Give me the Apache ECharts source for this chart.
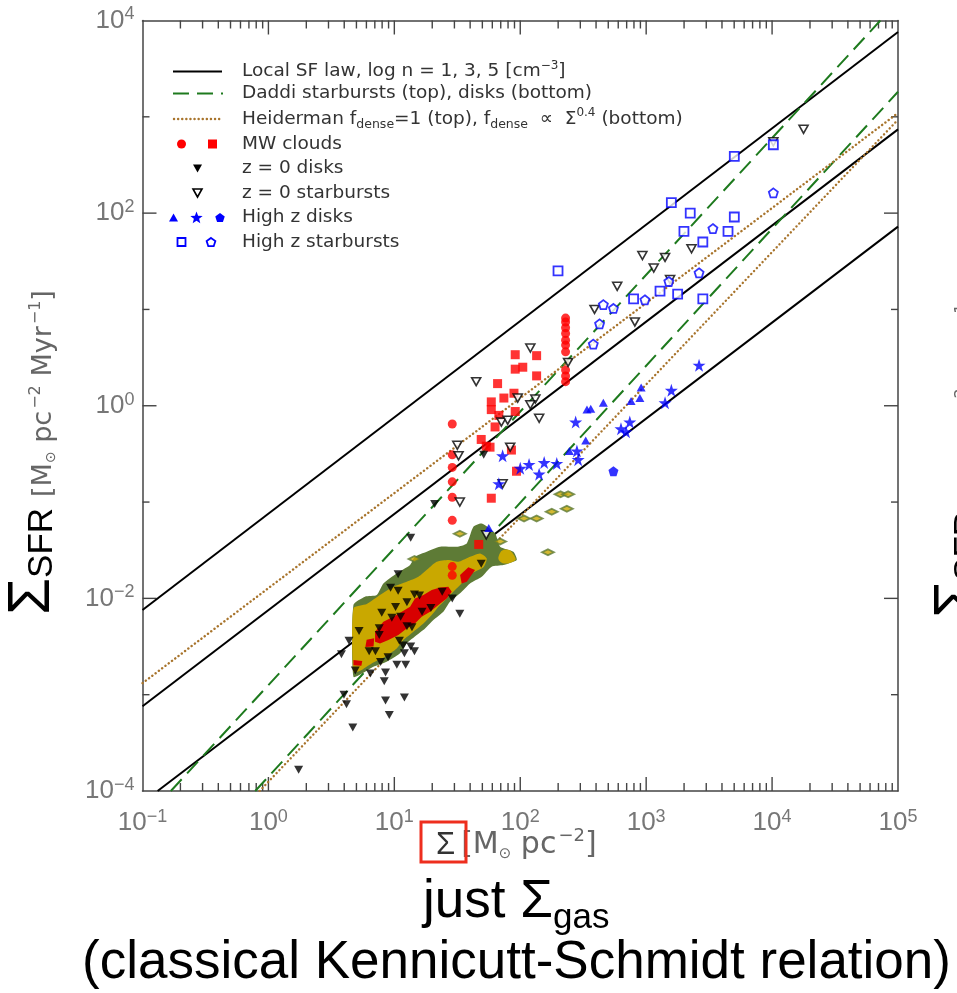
<!DOCTYPE html>
<html><head><meta charset="utf-8">
<script src="https://cdn.jsdelivr.net/npm/echarts@6/dist/echarts.min.js"></script>
<style>html,body{margin:0;padding:0;background:#fff}#c{width:957px;height:993px}</style>
</head><body><div id="c"></div>
<script>
// ---------------- axis ranges & ticks ----------------
const xRange = [0.1, 1e5];
const yRange = [1e-4, 1e4];
const xMajorTicks = [1, 10, 100, 1000, 10000];
const xMinorTicks = [0.2,0.3,0.4,0.5,0.6,0.7,0.8,0.9, 2,3,4,5,6,7,8,9, 20,30,40,50,60,70,80,90,
  200,300,400,500,600,700,800,900, 2000,3000,4000,5000,6000,7000,8000,9000,
  20000,30000,40000,50000,60000,70000,80000,90000];
const yMajorTicks = [1e-2, 1, 1e2];
const yMinorTicks = [1e-3, 1e-1, 10, 1e3];

// ---------------- model lines: endpoints as [log10 Sigma, log10 SFR] ----------------
const sfLawLinesLog = [
  [[-1, -2.12], [5, 3.88]],
  [[-1, -3.12], [5, 2.87]],
  [[-0.88, -4], [5, 1.86]]
];
const daddiLinesLog = [
  [[-0.775, -4], [4.86, 4]],
  [[-0.105, -4], [5, 3.26]]
];
const heidermanLinesLog = [
  [[-1, -2.88], [5, 3.04]],
  [[-0.07, -4], [5, 2.97]]
];

// ---------------- points: [log10 Sigma_gas, log10 Sigma_SFR] ----------------
const mwCirclesLog = [
  [2.36,0.91],[2.36,0.87],[2.36,0.81],[2.36,0.75],[2.36,0.68],[2.36,0.63],[2.36,0.56],[2.36,0.37],[2.36,0.31],[2.36,0.25],
  [1.46,-0.19],[1.46,-0.51],[1.46,-0.64],[1.46,-0.79],[1.46,-0.95],[1.46,-1.19],[1.46,-1.67],[1.46,-1.76]
];
const mwSquaresLog = [
  [1.96,0.53],[2.13,0.52],[1.96,0.38],[2.02,0.40],[2.13,0.31],[1.82,0.23],[1.95,0.13],[1.87,0.08],[1.77,0.04],[1.77,-0.04],
  [1.83,-0.10],[1.96,-0.06],[1.80,-0.22],[1.69,-0.35],[1.73,-0.42],[1.76,-0.43],[1.93,-0.46],[1.97,-0.68],[1.77,-0.96],[1.67,-1.44]
];
const z0DisksLog = [
  [1.32,-1.02],[1.13,-1.37],[1.69,-1.64],[1.03,-1.75],[0.97,-1.89],[1.03,-1.92],[1.38,-1.93],[1.16,-1.96],[1.20,-1.97],[1.46,-2.00],
  [1.10,-2.04],[1.01,-2.09],[1.29,-2.10],[1.22,-2.14],[1.52,-2.16],[0.90,-2.15],[0.98,-2.20],[1.05,-2.19],[1.10,-2.29],[1.14,-2.30],
  [0.88,-2.31],[0.72,-2.34],[0.88,-2.38],[1.04,-2.44],[0.64,-2.44],[1.07,-2.49],[1.13,-2.50],[1.16,-2.55],[0.80,-2.55],[0.85,-2.55],
  [0.58,-2.58],[1.08,-2.57],[0.89,-2.66],[0.95,-2.61],[1.02,-2.69],[1.09,-2.69],[0.69,-2.75],[0.81,-2.78],[0.93,-2.77],[0.92,-2.86],
  [0.60,-3.00],[0.62,-3.10],[0.93,-3.06],[1.08,-3.03],[0.96,-3.21],[0.67,-3.34],[0.24,-3.78],[1.71,-0.51]
];
const z0StarburstsLog = [
  [2.08,0.60],[1.65,0.25],[1.98,0.08],[2.12,0.07],[2.08,0.01],[2.15,-0.13],[1.85,-0.17],[1.90,-0.15],[1.50,-0.41],[1.51,-0.52],
  [1.92,-0.43],[2.38,0.45],[1.86,-0.81],[1.52,-1.00],[1.73,-1.34],[2.91,0.87],[4.01,2.74],[4.25,2.87],[2.97,1.56],[3.15,1.54],
  [3.06,1.43],[3.36,1.63],[3.19,1.31],[2.77,1.24],[2.59,1.00]
];
const highZDiskTrianglesLog = [
  [2.96,0.19],[2.88,0.05],[2.95,0.08],[2.66,0.03],[2.53,-0.04],[2.56,-0.03],[2.52,-0.36],[2.39,-0.47],[1.75,-1.27]
];
const highZDiskStarsLog = [
  [2.44,-0.17],[2.87,-0.17],[2.80,-0.24],[2.84,-0.27],[1.86,-0.52],[2.00,-0.65],[2.07,-0.61],[2.19,-0.59],[2.29,-0.60],[2.15,-0.71],
  [2.45,-0.47],[2.46,-0.56],[1.83,-0.81],[3.42,0.42],[3.20,0.16],[3.15,0.03]
];
const highZDiskPentagonsLog = [[2.74,-0.68]];
const highZSbSquaresLog = [
  [2.30,1.40],[3.20,2.11],[3.35,2.00],[3.30,1.81],[3.70,2.59],[4.01,2.71],[3.70,1.96],[3.65,1.81],[3.45,1.70],[3.11,1.19],
  [3.25,1.16],[2.90,1.11],[3.45,1.11]
];
const highZSbPentagonsLog = [
  [2.66,1.05],[2.74,1.01],[2.63,0.85],[2.58,0.64],[2.99,1.10],[3.18,1.29],[3.42,1.38],[3.53,1.84],[4.01,2.21]
];

// ---------------- pixel-map density contours (polygon vertices, log units) ----------------
const contourOuterLog = [
  [0.675,-2.070],[0.767,-1.983],[0.860,-1.966],[0.913,-1.845],[1.019,-1.741],[1.125,-1.654],[1.164,-1.568],[1.257,-1.516],
  [1.363,-1.464],[1.495,-1.464],[1.575,-1.429],[1.628,-1.256],[1.694,-1.222],[1.800,-1.325],[1.840,-1.464],[1.945,-1.516],
  [1.972,-1.602],[1.866,-1.654],[1.773,-1.671],[1.694,-1.775],[1.601,-1.845],[1.522,-1.948],[1.442,-2.035],[1.389,-2.139],
  [1.310,-2.225],[1.244,-2.312],[1.178,-2.381],[1.098,-2.468],[1.045,-2.571],[0.939,-2.658],[0.833,-2.710],[0.754,-2.772],[0.675,-2.814]
];
const contourMidLog = [
  [0.675,-2.104],[0.781,-2.059],[0.886,-1.966],[0.992,-1.879],[1.098,-1.827],[1.191,-1.775],[1.270,-1.689],[1.337,-1.620],
  [1.429,-1.602],[1.509,-1.620],[1.588,-1.575],[1.681,-1.533],[1.734,-1.585],[1.707,-1.678],[1.615,-1.741],[1.548,-1.827],
  [1.482,-1.914],[1.416,-2.000],[1.350,-2.087],[1.297,-2.173],[1.231,-2.260],[1.151,-2.346],[1.072,-2.433],[1.019,-2.520],
  [0.926,-2.606],[0.820,-2.675],[0.728,-2.751],[0.675,-2.762]
];
const contourMidPatchLog = [[1.826,-1.585],[1.853,-1.505],[1.914,-1.498],[1.964,-1.595],[1.906,-1.637],[1.853,-1.630]];
const contourInnerLog = [
  [0.847,-2.346],[0.913,-2.243],[0.992,-2.191],[1.059,-2.139],[1.125,-2.087],[1.164,-2.000],[1.231,-1.966],[1.297,-1.914],
  [1.363,-1.886],[1.429,-1.879],[1.456,-1.931],[1.416,-2.000],[1.350,-2.070],[1.284,-2.139],[1.217,-2.191],[1.164,-2.260],
  [1.098,-2.312],[1.032,-2.381],[0.953,-2.433],[0.886,-2.468],[0.847,-2.450]
];
const contourInnerPatchALog = [[1.522,-1.758],[1.588,-1.678],[1.641,-1.706],[1.575,-1.827],[1.535,-1.845]];
const contourInnerPatchBLog = [[0.780,-2.430],[0.840,-2.415],[0.835,-2.500],[0.770,-2.505]];
const contourInnerPatchCLog = [[0.675,-2.640],[0.745,-2.650],[0.738,-2.700],[0.675,-2.695]];
const contourBlobsLog = [
  [1.52,-1.33],[2.13,-1.17],[2.03,-1.17],[2.25,-1.10],[2.37,-1.07],[2.32,-0.92],[2.38,-0.92],[2.22,-1.52],[1.84,-1.41],[1.16,-1.59]
];

// ---------------- helpers ----------------
const FONT = '"Liberation Sans", Arial, sans-serif';
const LFONT = '"DejaVu Sans", sans-serif';
const toVal = arr => arr.map(p => [Math.pow(10, p[0]), Math.pow(10, p[1])]);
const PENTAGON = 'path://M50,0 L97.6,34.5 L79.4,90.5 L20.6,90.5 L2.4,34.5 Z';
const STAR = 'path://M50,0 L61.8,35.3 L99,35.3 L69,57.6 L80.4,93 L50,71 L19.6,93 L31,57.6 L1,35.3 L38.2,35.3 Z';

const mctx = document.createElement('canvas').getContext('2d');
function textW(t, size, fam) { mctx.font = size + 'px ' + fam; return mctx.measureText(t).width; }
// lay a run of text pieces on one baseline (local coords: x along text, baseline at y=0)
function textRun(segs) {
  let x = 0; const kids = [];
  segs.forEach(s => {
    const fam = s.fam || FONT;
    kids.push({ type: 'text', x: x, y: (s.dy || 0) - 0.35 * s.size,
      style: { text: s.t, fontSize: s.size, fontFamily: fam, fill: s.c || '#000', align: 'left', verticalAlign: 'middle' } });
    x += textW(s.t, s.size, fam) + (s.gap || 0);
  });
  return kids;
}

function lineSeries(seg, color, type, width, cap) {
  return { type: 'line', data: toVal(seg), symbol: 'none', silent: true, animation: false, z: 2,
    lineStyle: { color, width, type, cap: cap || 'butt' } };
}
function polySeries(verts, color, z, smooth) {
  const data = toVal(verts);
  return { type: 'custom', coordinateSystem: 'cartesian2d', silent: true, animation: false, z: z, data,
    renderItem: (params, api) => {
      if (params.dataIndex !== 0) return null;
      return { type: 'polygon', shape: { points: data.map(d => api.coord(d)), smooth: smooth || 0 }, style: { fill: color } };
    } };
}
function scatter(arr, opt) {
  return Object.assign({ type: 'scatter', data: toVal(arr), silent: true, animation: false, z: 5 }, opt);
}
function expLabel(v, skipOdd) {
  const e = Math.round(Math.log10(v));
  if (skipOdd && Math.abs(e) % 2 === 1) return '';
  return '{b|10}{e|' + (e < 0 ? '\u2212' + (-e) : e) + '}';
}
const labelRich = {
  b: { fontSize: 26, color: '#777', fontFamily: FONT, lineHeight: 30 },
  e: { fontSize: 18, color: '#777', fontFamily: FONT, lineHeight: 16, verticalAlign: 'top' }
};

// tick marks drawn through the axes' scales
const tickData = [].concat(
  xMajorTicks.map(v => [v, 1, 14, 0]),
  xMinorTicks.map(v => [v, 1, 8, 0]),
  yMajorTicks.map(v => [1, v, 14, 1]),
  yMinorTicks.map(v => [1, v, 7, 1])
);
const tickSeries = {
  type: 'custom', coordinateSystem: 'cartesian2d', silent: true, animation: false, z: 1, clip: false,
  data: tickData,
  renderItem: (params, api) => {
    const lo = api.coord([xRange[0], yRange[0]]);
    const hi = api.coord([xRange[1], yRange[1]]);
    const len = api.value(2), kind = api.value(3);
    const st = { stroke: '#444', lineWidth: 1.4 };
    if (kind === 0) {
      const x = api.coord([api.value(0), 1])[0];
      return { type: 'group', children: [
        { type: 'line', shape: { x1: x, y1: lo[1], x2: x, y2: lo[1] - len }, style: st },
        { type: 'line', shape: { x1: x, y1: hi[1], x2: x, y2: hi[1] + len }, style: st } ] };
    }
    const y = api.coord([1, api.value(1)])[1];
    return { type: 'group', children: [
      { type: 'line', shape: { x1: lo[0], y1: y, x2: lo[0] + len, y2: y }, style: st },
      { type: 'line', shape: { x1: hi[0], y1: y, x2: hi[0] - len, y2: y }, style: st } ] };
  }
};

// ---------------- legend (graphic) ----------------
const legendRows = [71.5, 93.5, 119, 144, 168.5, 193, 217.5, 242];
const LX = 242;
function polyPts(cx, cy, r, n, inner) {
  const pts = [];
  const k = inner ? n * 2 : n;
  for (let i = 0; i < k; i++) {
    const a = -Math.PI / 2 + i * Math.PI * 2 / k;
    const rr = inner && (i % 2 === 1) ? r * inner : r;
    pts.push([cx + rr * Math.cos(a), cy + rr * Math.sin(a)]);
  }
  return pts;
}
const legendRich = {
  t: { fontSize: 18.5, fontFamily: LFONT, fill: '#333', color: '#333', lineHeight: 24 },
  sub: { fontSize: 12.5, fontFamily: LFONT, fill: '#333', color: '#333', verticalAlign: 'bottom', lineHeight: 12 },
  sup: { fontSize: 12, fontFamily: LFONT, fill: '#333', color: '#333', verticalAlign: 'top', lineHeight: 12 }
};
const legendTexts = [
  '{t|Local SF law, log n = 1, 3, 5 [cm}{sup|\u22123}{t|]}',
  '{t|Daddi starbursts (top), disks (bottom)}',
  '{t|Heiderman f}{sub|dense}{t|=1 (top), f}{sub|dense}{t|  \u221d  \u03a3}{sup|0.4}{t| (bottom)}',
  '{t|MW clouds}',
  '{t|z = 0 disks}',
  '{t|z = 0 starbursts}',
  '{t|High z disks}',
  '{t|High z starbursts}'
];
const legendGraphics = [];
legendTexts.forEach((t, i) => legendGraphics.push({ type: 'text', x: LX, y: legendRows[i], z: 20,
  style: { text: t, rich: legendRich, align: 'left', verticalAlign: 'middle' } }));
legendGraphics.push(
  { type: 'line', z: 20, shape: { x1: 173, y1: legendRows[0], x2: 222, y2: legendRows[0] }, style: { stroke: '#000', lineWidth: 2 } },
  { type: 'line', z: 20, shape: { x1: 173, y1: legendRows[1], x2: 223, y2: legendRows[1] }, style: { stroke: '#1e7a1e', lineWidth: 2, lineDash: [16, 8] } },
  { type: 'line', z: 20, shape: { x1: 174, y1: legendRows[2], x2: 222, y2: legendRows[2] }, style: { stroke: '#a8742c', lineWidth: 2.4, lineDash: [0.1, 4], lineCap: 'round' } },
  { type: 'circle', z: 20, shape: { cx: 181.5, cy: legendRows[3], r: 4.5 }, style: { fill: '#ff0000' } },
  { type: 'rect', z: 20, shape: { x: 208, y: legendRows[3] - 4.5, width: 9, height: 9 }, style: { fill: '#ff0000' } },
  { type: 'polygon', z: 20, shape: { points: [[193, legendRows[4] - 4], [202, legendRows[4] - 4], [197.5, legendRows[4] + 4]] }, style: { fill: '#000' } },
  { type: 'polygon', z: 20, shape: { points: [[193, legendRows[5] - 4], [202, legendRows[5] - 4], [197.5, legendRows[5] + 4]] }, style: { fill: '#fff', stroke: '#000', lineWidth: 1.6 } },
  { type: 'polygon', z: 20, shape: { points: [[169, legendRows[6] + 4], [178, legendRows[6] + 4], [173.5, legendRows[6] - 4]] }, style: { fill: '#0000ff' } },
  { type: 'polygon', z: 20, shape: { points: polyPts(196.5, legendRows[6] + 0.5, 6.5, 5, 0.42) }, style: { fill: '#0000ff' } },
  { type: 'polygon', z: 20, shape: { points: polyPts(220, legendRows[6] + 0.5, 5, 5) }, style: { fill: '#0000ff' } },
  { type: 'rect', z: 20, shape: { x: 177.5, y: legendRows[7] - 4, width: 8, height: 8 }, style: { fill: '#fff', stroke: '#0000ff', lineWidth: 1.8 } },
  { type: 'polygon', z: 20, shape: { points: polyPts(211, legendRows[7] + 0.5, 4.6, 5) }, style: { fill: '#fff', stroke: '#0000ff', lineWidth: 1.8 } }
);

// ---------------- axis names & captions ----------------
const GRAY = '#666';
const yNameSegs = [
  { t: '\u03a3', size: 60, c: '#000' },
  { t: 'SFR', size: 35, c: '#000', dy: 2, gap: 11 },
  { t: '[M', size: 27, c: GRAY, fam: LFONT },
  { t: '\u2299', size: 14, c: GRAY, fam: LFONT, dy: 3 },
  { t: ' pc', size: 27, c: GRAY, fam: LFONT, gap: 2 },
  { t: '\u22122', size: 16, c: GRAY, fam: LFONT, dy: -12 },
  { t: ' Myr', size: 27, c: GRAY, fam: LFONT, gap: 2 },
  { t: '\u22121', size: 16, c: GRAY, fam: LFONT, dy: -12 },
  { t: ']', size: 27, c: GRAY, fam: LFONT }
];
const xNameSegs = [
  { t: '\u03a3', size: 31, c: '#333', gap: 6 },
  { t: '[M', size: 30, c: GRAY, fam: LFONT },
  { t: '\u2299', size: 15, c: GRAY, fam: LFONT, dy: 3 },
  { t: ' pc', size: 30, c: GRAY, fam: LFONT, gap: 2 },
  { t: '\u22122', size: 18, c: GRAY, fam: LFONT, dy: -13 },
  { t: ']', size: 30, c: GRAY, fam: LFONT }
];
const captionSegs = [
  { t: 'just \u03a3', size: 53, c: '#000' },
  { t: 'gas', size: 35, c: '#000', dy: 10 }
];

const graphics = legendGraphics.concat([
  { type: 'group', x: 53, y: 615, rotation: Math.PI / 2, z: 20, children: textRun(yNameSegs) },
  { type: 'group', x: 979, y: 618, rotation: Math.PI / 2, z: 20, children: textRun(yNameSegs) },
  { type: 'group', x: 436, y: 856, z: 20, children: textRun(xNameSegs) },
  { type: 'rect', z: 21, shape: { x: 421, y: 822, width: 45, height: 40 }, style: { fill: 'none', stroke: '#ee2e1e', lineWidth: 3 } },
  { type: 'group', x: 423, y: 921, z: 20, children: textRun(captionSegs) },
  { type: 'text', x: 516.5, y: 982 - 0.35 * 53, z: 20,
    style: { text: '(classical Kennicutt-Schmidt relation)', fontSize: 53, fontFamily: FONT, fill: '#000', align: 'center', verticalAlign: 'middle' } }
]);

// ---------------- chart ----------------
const axisLineStyle = { show: true, lineStyle: { color: '#444', width: 1.5 } };
const option = {
  backgroundColor: '#fff',
  animation: false,
  grid: { left: 142.5, top: 20.5, right: 59, bottom: 202, containLabel: false },
  xAxis: [
    { type: 'log', logBase: 10, min: xRange[0], max: xRange[1], position: 'bottom',
      axisLine: axisLineStyle, axisTick: { show: false }, splitLine: { show: false }, minorTick: { show: false },
      axisLabel: { show: true, margin: 17, showMinLabel: true, showMaxLabel: true, hideOverlap: false,
        formatter: v => expLabel(v, false), rich: labelRich } },
    { type: 'log', logBase: 10, min: xRange[0], max: xRange[1], position: 'top',
      axisLine: axisLineStyle, axisTick: { show: false }, splitLine: { show: false }, axisLabel: { show: false } }
  ],
  yAxis: [
    { type: 'log', logBase: 10, min: yRange[0], max: yRange[1], position: 'left',
      axisLine: axisLineStyle, axisTick: { show: false }, splitLine: { show: false }, minorTick: { show: false },
      axisLabel: { show: true, margin: 8, showMinLabel: true, showMaxLabel: true, hideOverlap: false,
        formatter: v => expLabel(v, true), rich: labelRich } },
    { type: 'log', logBase: 10, min: yRange[0], max: yRange[1], position: 'right',
      axisLine: axisLineStyle, axisTick: { show: false }, splitLine: { show: false }, axisLabel: { show: false } }
  ],
  graphic: graphics,
  series: [].concat(
    sfLawLinesLog.map(s => lineSeries(s, '#000', 'solid', 2)),
    daddiLinesLog.map(s => lineSeries(s, '#1e7a1e', [16, 8], 2)),
    heidermanLinesLog.map(s => lineSeries(s, '#a8742c', [0.1, 4], 2.4, 'round')),
    [
      polySeries(contourOuterLog, '#5e7b36', 3, 0.2),
      polySeries(contourMidLog, '#c9a800', 3.1, 0.2),
      polySeries(contourMidPatchLog, '#c9a800', 3.1, 0.3),
      polySeries(contourInnerLog, '#d80000', 3.2, 0),
      polySeries(contourInnerPatchALog, '#d80000', 3.2, 0),
      polySeries(contourInnerPatchBLog, '#d80000', 3.2, 0),
      polySeries(contourInnerPatchCLog, '#d80000', 3.2, 0),
      scatter(contourBlobsLog, { symbol: 'diamond', symbolSize: [12, 6], z: 3.3,
        itemStyle: { color: '#c9a800', borderColor: '#5e7b36', borderWidth: 2 } }),
      tickSeries,
      scatter(mwCirclesLog, { symbol: 'circle', symbolSize: 9, itemStyle: { color: '#ff0000' } }),
      scatter(mwSquaresLog, { symbol: 'rect', symbolSize: 9, itemStyle: { color: '#ff0000' } }),
      scatter(z0DisksLog, { symbol: 'triangle', symbolRotate: 180, symbolSize: [9, 8], itemStyle: { color: '#000' } }),
      scatter(z0StarburstsLog, { symbol: 'triangle', symbolRotate: 180, symbolSize: [9, 8],
        itemStyle: { color: '#fff', borderColor: '#000', borderWidth: 1.6 } }),
      scatter(highZDiskTrianglesLog, { symbol: 'triangle', symbolSize: [9, 8], itemStyle: { color: '#0000ff' } }),
      scatter(highZDiskStarsLog, { symbol: STAR, symbolSize: 13, itemStyle: { color: '#0000ff' } }),
      scatter(highZDiskPentagonsLog, { symbol: PENTAGON, symbolSize: 10, itemStyle: { color: '#0000ff' } }),
      scatter(highZSbSquaresLog, { symbol: 'rect', symbolSize: 9, itemStyle: { color: '#fff', borderColor: '#0000ff', borderWidth: 1.8 } }),
      scatter(highZSbPentagonsLog, { symbol: PENTAGON, symbolSize: 9, itemStyle: { color: '#fff', borderColor: '#0000ff', borderWidth: 1.8 } })
    ]
  )
};
const chart = echarts.init(document.getElementById('c'), null, { renderer: 'canvas' });
chart.setOption(option);
</script>
</body></html>
